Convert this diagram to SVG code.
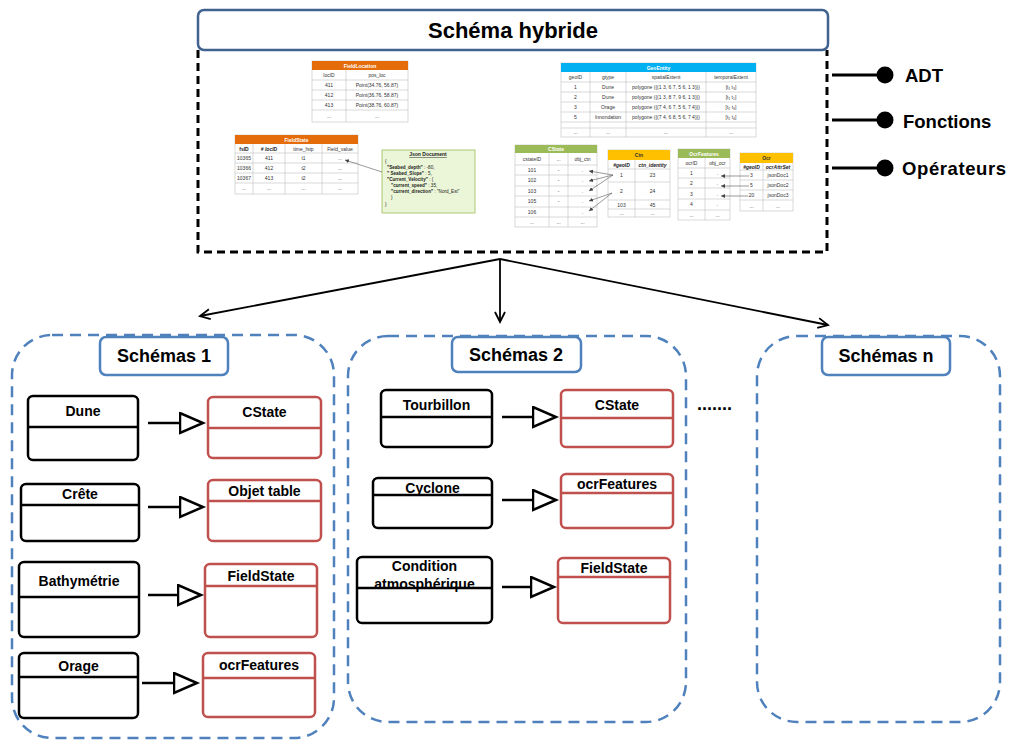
<svg xmlns="http://www.w3.org/2000/svg" width="1011" height="742" viewBox="0 0 1011 742">
<style>
text{font-family:"Liberation Sans",Arial,sans-serif}
.ttl{font-size:22px;font-weight:bold;text-anchor:middle}
.big{font-size:18px;font-weight:bold}
.lg{font-size:18.5px;font-weight:bold}
.sch{font-size:18px;font-weight:bold;text-anchor:middle}
.nd{font-size:14px;font-weight:bold;text-anchor:middle}
.bn{fill:#fff;stroke:#000;stroke-width:2.5}
.rn{fill:#fff;stroke:#c0504d;stroke-width:2.5}
.bl{stroke:#000;stroke-width:2.5}
.rl{stroke:#c0504d;stroke-width:2.5}
.cont{fill:#fff;stroke:#4f81bd;stroke-width:2.5;stroke-dasharray:11 7}
.tbox{fill:#fff;stroke:#4f81bd;stroke-width:2.5}
.tb{fill:#fff;stroke:#bfbfbf;stroke-width:0.6}
.gl{stroke:#bfbfbf;stroke-width:0.6}
.c{font-size:5px;text-anchor:middle;fill:#333}
.cb{font-size:5px;text-anchor:middle;fill:#222;font-weight:bold}
.hw{font-size:5px;text-anchor:middle;fill:#fff;font-weight:bold}
.hd{font-size:5px;text-anchor:middle;fill:#333;font-weight:bold}
.js{font-size:4.6px;fill:#222}
.inh{stroke:#000;stroke-width:2.5;fill:none;marker-end:url(#tri)}
.ar{stroke:#000;stroke-width:1.8;fill:none;marker-end:url(#vh)}
.sa{stroke:#555;stroke-width:0.6;fill:none;marker-end:url(#sh)}
</style>
<defs>
<marker id="tri" markerUnits="userSpaceOnUse" markerWidth="28" markerHeight="24" refX="1" refY="11" orient="auto"><path d="M1,1 L24,11 L1,21 Z" fill="#fff" stroke="#000" stroke-width="2.5"/></marker>
<marker id="vh" markerUnits="userSpaceOnUse" markerWidth="14" markerHeight="14" refX="11" refY="6" orient="auto"><path d="M1,1 L11,6 L1,11" fill="none" stroke="#000" stroke-width="1.8"/></marker>
<marker id="sh" markerUnits="userSpaceOnUse" markerWidth="5" markerHeight="5" refX="4" refY="2" orient="auto"><path d="M0,0 L4,2 L0,4 Z" fill="#444"/></marker>
</defs>

<g id="hybride">
<path d="M198,50 V252 H827 V50" fill="none" stroke="#000" stroke-width="3" stroke-dasharray="8 5"/>
<rect x="198" y="10" width="630" height="40" rx="6" fill="#fff" stroke="#41628f" stroke-width="2.5"/>
<text class="ttl" x="513" y="38">Schéma hybride</text>
</g>

<g id="FieldLocation">
<rect class="tb" x="312" y="61" width="96" height="61"/>
<rect x="312" y="61" width="96" height="9" fill="#e46c0a"/>
<text class="hw" x="360" y="67.5">FieldLocation</text>
<path class="gl" d="M312,80H408M312,90H408M312,100H408M312,110H408M346,70V122"/>
<text class="c" x="329" y="77">locID</text><text class="c" x="377" y="77">pos_loc</text>
<text class="c" x="329" y="87">411</text><text class="c" x="377" y="87">Point(34.76, 56.87)</text>
<text class="c" x="329" y="97">412</text><text class="c" x="377" y="97">Point(36.76, 58.87)</text>
<text class="c" x="329" y="107">413</text><text class="c" x="377" y="107">Point(38.76, 60.87)</text>
<text class="c" x="329" y="118">...</text><text class="c" x="377" y="118">...</text>
</g>

<g id="FieldState_table">
<rect class="tb" x="235" y="135" width="123" height="59"/>
<rect x="235" y="135" width="123" height="9" fill="#e46c0a"/>
<text class="hw" x="296.5" y="141.5">FieldState</text>
<path class="gl" d="M235,153H358M235,163H358M235,173H358M235,183H358M253,144V194M285,144V194M322,144V194"/>
<text class="cb" x="244" y="150.5">fsID</text><text class="cb" x="269" y="150.5" font-style="italic"># locID</text><text class="c" x="303.5" y="150.5">time_fstp</text><text class="c" x="340" y="150.5">Field_value</text>
<text class="c" x="244" y="160">10365</text><text class="c" x="269" y="160">411</text><text class="c" x="303.5" y="160">t1</text><text class="c" x="340" y="160">...</text>
<text class="c" x="244" y="170">10366</text><text class="c" x="269" y="170">412</text><text class="c" x="303.5" y="170">t2</text><text class="c" x="340" y="170">...</text>
<text class="c" x="244" y="180">10367</text><text class="c" x="269" y="180">413</text><text class="c" x="303.5" y="180">t2</text><text class="c" x="340" y="180">...</text>
<text class="c" x="244" y="190">...</text><text class="c" x="269" y="190">...</text><text class="c" x="303.5" y="190">...</text><text class="c" x="340" y="190">...</text>
</g>

<g id="JsonDocument">
<rect x="382" y="150" width="93" height="63" fill="#ebf5d7" stroke="#9bbb59" stroke-width="0.8"/>
<text class="cb" x="428" y="156" text-decoration="underline">Json Document</text>
<text class="js" x="385" y="163">{</text>
<text class="js" x="387" y="169"><tspan font-weight="bold">"Seabed_depth"</tspan> : -80,</text>
<text class="js" x="387" y="175"><tspan font-weight="bold">" Seabed_Slope"</tspan> : 5,</text>
<text class="js" x="387" y="181"><tspan font-weight="bold">"Current_Velocity"</tspan> : {</text>
<text class="js" x="391" y="187"><tspan font-weight="bold">"current_speed"</tspan> : 35,</text>
<text class="js" x="391" y="193"><tspan font-weight="bold">"current_direction"</tspan> : "Nord_Est"</text>
<text class="js" x="391" y="199">}</text>
<text class="js" x="385" y="206">}</text>
</g>

<g id="GeoEntity">
<rect class="tb" x="561" y="63" width="195" height="74"/>
<rect x="561" y="63" width="195" height="9" fill="#00b0f0"/>
<text class="hw" x="658.5" y="69.5">GeoEntity</text>
<path class="gl" d="M561,82H756M561,92H756M561,102H756M561,112H756M561,122H756M561,128H756M590,72V137M626,72V137M706,72V137"/>
<text class="c" x="575.5" y="79">geoID</text><text class="c" x="608" y="79">gtype</text><text class="c" x="666" y="79">spatialExtent</text><text class="c" x="731" y="79">temporalExtent</text>
<text class="c" x="575.5" y="89">1</text><text class="c" x="608" y="89">Dune</text><text class="c" x="666" y="89">polygone ({(1 3, 6 7, 5 6, 1 3)})</text><text class="c" x="731" y="89">[t₁ t₃]</text>
<text class="c" x="575.5" y="99">2</text><text class="c" x="608" y="99">Dune</text><text class="c" x="666" y="99">polygone ({(1 3, 8 7, 9 6, 1 3)})</text><text class="c" x="731" y="99">[t₁ t₂]</text>
<text class="c" x="575.5" y="109">3</text><text class="c" x="608" y="109">Orage</text><text class="c" x="666" y="109">polygone ({(7 4, 6 7, 5 6, 7 4)})</text><text class="c" x="731" y="109">[t₂ t₃]</text>
<text class="c" x="575.5" y="119">5</text><text class="c" x="608" y="119">Innondation</text><text class="c" x="666" y="119">polygone ({(7 4, 6 8, 5 6, 7 4)})</text><text class="c" x="731" y="119">[t₂ t₄]</text>
<text class="c" x="575.5" y="134">...</text><text class="c" x="608" y="134">...</text><text class="c" x="666" y="134">...</text><text class="c" x="731" y="134">...</text>
</g>

<g id="CState_table">
<rect class="tb" x="515" y="145" width="82" height="82"/>
<rect x="515" y="145" width="82" height="8" fill="#9bbb59"/>
<text class="hw" x="556" y="151">CState</text>
<path class="gl" d="M515,165H597M515,175H597M515,186H597M515,196H597M515,207H597M515,217H597M549,153V227M568,153V227"/>
<text class="c" x="532" y="161">cstateID</text><text class="c" x="558.5" y="161">...</text><text class="c" x="582.5" y="161">obj_ctn</text>
<text class="c" x="532" y="172">101</text><text class="c" x="558.5" y="172">-</text><text class="c" x="582.5" y="172">.</text>
<text class="c" x="532" y="182">102</text><text class="c" x="558.5" y="182">-</text><text class="c" x="582.5" y="182">.</text>
<text class="c" x="532" y="193">103</text><text class="c" x="558.5" y="193">-</text><text class="c" x="582.5" y="193">.</text>
<text class="c" x="532" y="203">105</text><text class="c" x="558.5" y="203">-</text><text class="c" x="582.5" y="203">.</text>
<text class="c" x="532" y="214">106</text><text class="c" x="582.5" y="214">.</text>
<text class="c" x="532" y="224">...</text><text class="c" x="558.5" y="224">...</text><text class="c" x="582.5" y="224">...</text>
</g>

<g id="Ctn">
<rect class="tb" x="608" y="150" width="62" height="67"/>
<rect x="608" y="150" width="62" height="10" fill="#ffc000"/>
<text class="hd" x="639" y="157">Ctn</text>
<path class="gl" d="M608,169H670M608,182H670M608,200H670M608,209H670M635,160V217"/>
<text class="cb" x="621.5" y="166.5" font-style="italic">#geoID</text><text class="cb" x="652.5" y="166.5" font-style="italic">ctn_identity</text>
<text class="c" x="621.5" y="177">1</text><text class="c" x="652.5" y="177">23</text>
<text class="c" x="621.5" y="193">2</text><text class="c" x="652.5" y="193">24</text>
<text class="c" x="621.5" y="206.5">103</text><text class="c" x="652.5" y="206.5">45</text>
<text class="c" x="621.5" y="215">...</text><text class="c" x="652.5" y="215">...</text>
</g>

<g id="OcrFeatures">
<rect class="tb" x="678" y="149" width="52" height="71"/>
<rect x="678" y="149" width="52" height="9" fill="#9bbb59"/>
<text class="hw" x="704" y="155.5">OcrFeatures</text>
<path class="gl" d="M678,168H730M678,178H730M678,188H730M678,199H730M678,210H730M705,158V220"/>
<text class="c" x="691.5" y="165">ocrID</text><text class="c" x="717.5" y="165">obj_ocr</text>
<text class="c" x="691.5" y="175">1</text><text class="c" x="717.5" y="175">.</text>
<text class="c" x="691.5" y="185">2</text><text class="c" x="717.5" y="185">.</text>
<text class="c" x="691.5" y="195.5">3</text><text class="c" x="717.5" y="195.5">.</text>
<text class="c" x="691.5" y="206">4</text><text class="c" x="717.5" y="206">.</text>
<text class="c" x="691.5" y="217">...</text><text class="c" x="717.5" y="217">...</text>
</g>

<g id="Ocr">
<rect class="tb" x="740" y="153" width="53" height="58"/>
<rect x="740" y="153" width="53" height="10" fill="#ffc000"/>
<text class="hd" x="766.5" y="160">Ocr</text>
<path class="gl" d="M740,170H793M740,180H793M740,190H793M740,200H793M763,163V211"/>
<text class="cb" x="751.5" y="168.5" font-style="italic" font-size="4.5">#geoID</text><text class="cb" x="778" y="168.5" font-style="italic" font-size="4.5">ocrAttrSet</text>
<text class="c" x="751.5" y="177">3</text><text class="c" x="778" y="177">jsonDoc1</text>
<text class="c" x="751.5" y="187">5</text><text class="c" x="778" y="187">jsonDoc2</text>
<text class="c" x="751.5" y="197">20</text><text class="c" x="778" y="197">jsonDoc3</text>
<text class="c" x="751.5" y="207.5">...</text><text class="c" x="778" y="207.5">...</text>
</g>

<g id="legend">
<path d="M832,75H878M832,120H878M832,168H878" stroke="#000" stroke-width="3"/>
<circle cx="885" cy="75" r="8.5"/>
<circle cx="885" cy="120" r="8.5"/>
<circle cx="885" cy="168" r="8.5"/>
<text class="lg" x="905" y="82">ADT</text>
<text class="lg" x="903" y="128">Fonctions</text>
<text class="lg" x="902" y="175" letter-spacing="0.6">Opérateurs</text>
</g>

<g id="schemas1">
<rect class="cont" x="12" y="335" width="322" height="403" rx="40"/>
<rect class="tbox" x="100" y="337" width="128" height="38" rx="6"/>
<text class="sch" x="164" y="362">Schémas 1</text>
</g>
<g id="schemas2">
<rect class="cont" x="348" y="336" width="338" height="386" rx="40"/>
<rect class="tbox" x="452" y="337" width="129" height="35" rx="6"/>
<text class="sch" x="516" y="361">Schémas 2</text>
</g>
<g id="schemasn">
<rect class="cont" x="757" y="336" width="243" height="386" rx="40"/>
<rect class="tbox" x="822" y="337" width="128" height="38" rx="6"/>
<text class="sch" x="886" y="362">Schémas n</text>
</g>
<text class="big" x="697" y="410">.......</text>

<g id="s1-dune"><rect class="bn" x="28" y="396" width="110" height="64" rx="5"/><path class="bl" d="M28,427H138"/><text class="nd" x="83" y="416">Dune</text></g>
<g id="s1-cstate"><rect class="rn" x="208" y="397" width="113" height="61" rx="5"/><path class="rl" d="M208,428H321"/><text class="nd" x="264.5" y="417">CState</text></g>
<g id="s1-crete"><rect class="bn" x="21" y="484" width="118" height="57" rx="5"/><path class="bl" d="M21,505H139"/><text class="nd" x="80" y="499">Crête</text></g>
<g id="s1-objet"><rect class="rn" x="208" y="480" width="113" height="61" rx="5"/><path class="rl" d="M208,501H321"/><text class="nd" x="264.5" y="496">Objet table</text></g>
<g id="s1-bathy"><rect class="bn" x="19" y="562" width="120" height="75" rx="5"/><path class="bl" d="M19,597H139"/><text class="nd" x="79" y="586">Bathymétrie</text></g>
<g id="s1-fieldstate"><rect class="rn" x="205" y="564" width="112" height="73" rx="5"/><path class="rl" d="M205,586H317"/><text class="nd" x="261" y="581">FieldState</text></g>
<g id="s1-orage"><rect class="bn" x="19" y="653" width="119" height="65" rx="5"/><path class="bl" d="M19,677H138"/><text class="nd" x="78.5" y="671">Orage</text></g>
<g id="s1-ocr"><rect class="rn" x="203" y="653" width="112" height="64" rx="5"/><path class="rl" d="M203,678H315"/><text class="nd" x="259" y="670">ocrFeatures</text></g>

<g id="s2-tourbillon"><rect class="bn" x="381" y="390" width="111" height="57" rx="5"/><path class="bl" d="M381,417H492"/><text class="nd" x="436.5" y="410">Tourbillon</text></g>
<g id="s2-cstate"><rect class="rn" x="561" y="390" width="112" height="57" rx="5"/><path class="rl" d="M561,418H673"/><text class="nd" x="617" y="410">CState</text></g>
<g id="s2-cyclone"><rect class="bn" x="373" y="478" width="119" height="50" rx="5"/><path class="bl" d="M373,495H492"/><text class="nd" x="432.5" y="493">Cyclone</text></g>
<g id="s2-ocr"><rect class="rn" x="561" y="474" width="112" height="54" rx="5"/><path class="rl" d="M561,493H673"/><text class="nd" x="617" y="489">ocrFeatures</text></g>
<g id="s2-condition"><rect class="bn" x="357" y="557" width="135" height="66" rx="5"/><path class="bl" d="M357,588H492"/><text class="nd" x="424.5" y="571">Condition</text><text class="nd" x="424.5" y="589">atmosphérique</text></g>
<g id="s2-fieldstate"><rect class="rn" x="558" y="558" width="112" height="65" rx="5"/><path class="rl" d="M558,577H670"/><text class="nd" x="614" y="573">FieldState</text></g>

<g id="connectors">
<path class="ar" d="M500,259 L200,316"/>
<path class="ar" d="M500,259 L500,322"/>
<path class="ar" d="M500,259 L828,325"/>
<path class="inh" d="M148,423H180"/>
<path class="inh" d="M148,507H180"/>
<path class="inh" d="M148,595H178"/>
<path class="inh" d="M142,683H174"/>
<path class="inh" d="M502,417H533"/>
<path class="inh" d="M502,500H533"/>
<path class="inh" d="M502,587H531"/>
<path class="sa" d="M382,172 L345,160"/>
<path class="sa" d="M613,175 L589,171"/>
<path class="sa" d="M613,175 L589,181"/>
<path class="sa" d="M613,175 L589,191"/>
<path class="sa" d="M612,193 L589,201"/>
<path class="sa" d="M612,193 L589,211"/>
<path class="sa" d="M749,176 L721,176"/>
<path class="sa" d="M749,186 L721,186"/>
<path class="sa" d="M748,196 L721,196"/>
</g>
</svg>
